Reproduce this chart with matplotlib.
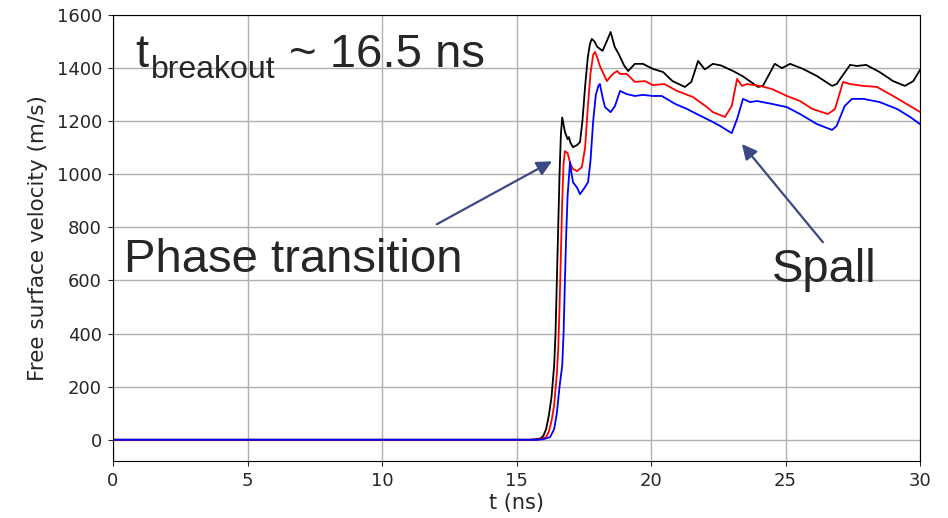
import matplotlib
matplotlib.use("Agg")
import matplotlib.pyplot as plt

# --- data (t in ns, v in m/s) ---
t_black = [0.0, 15.5, 15.7, 15.9, 16.0, 16.1, 16.2, 16.3, 16.4, 16.45, 16.5, 16.55, 16.6, 16.65,
           16.7, 16.8, 16.9, 16.95, 17.0, 17.1, 17.25, 17.36, 17.45, 17.55, 17.65, 17.73, 17.8,
           17.9, 18.0, 18.2, 18.35, 18.5, 18.65, 18.8, 19.0, 19.15, 19.4, 19.7, 20.07, 20.45,
           20.8, 21.26, 21.5, 21.75, 22.0, 22.3, 22.6, 23.05, 23.4, 23.98, 24.16, 24.6, 24.87,
           25.17, 25.65, 26.17, 26.73, 26.9, 27.4, 27.65, 28.0, 28.5, 29.0, 29.44, 29.75, 30.0]
v_black = [0, 0, 2, 5, 15, 40, 90, 160, 280, 400, 600, 800, 1000, 1150,
           1214, 1160, 1132, 1140, 1120, 1102, 1110, 1121, 1200, 1330, 1440, 1491, 1510,
           1500, 1480, 1465, 1500, 1536, 1480, 1453, 1410, 1389, 1416, 1416, 1397, 1385,
           1351, 1329, 1348, 1427, 1395, 1416, 1410, 1389, 1370, 1329, 1333, 1416, 1400,
           1416, 1397, 1370, 1333, 1340, 1412, 1408, 1412, 1385, 1351, 1333, 1351, 1393]

t_red = [0.0, 15.7, 15.9, 16.1, 16.2, 16.3, 16.4, 16.5, 16.55, 16.6, 16.65, 16.7, 16.75, 16.8,
         16.9, 17.0, 17.1, 17.25, 17.43, 17.55, 17.65, 17.75, 17.85, 17.92, 18.0, 18.1, 18.36,
         18.55, 18.74, 18.85, 19.1, 19.4, 19.78, 20.07, 20.5, 20.97, 21.56, 22.08, 22.3, 22.75,
         23.0, 23.2, 23.38, 23.57, 24.05, 24.5, 25.05, 25.54, 26.0, 26.58, 26.84, 27.14, 27.4,
         27.88, 28.4, 29.0, 29.5, 30.0]
v_red = [0, 0, 2, 10, 30, 70, 130, 250, 340, 500, 700, 900, 1040, 1087,
         1080, 1040, 1020, 1012, 1027, 1100, 1250, 1380, 1450, 1461, 1440, 1408, 1351,
         1375, 1389, 1378, 1378, 1348, 1351, 1336, 1340, 1314, 1291, 1253, 1234, 1216,
         1257, 1359, 1333, 1340, 1333, 1321, 1295, 1276, 1246, 1227, 1246, 1348, 1340,
         1333, 1329, 1295, 1265, 1235]

t_blue = [0.0, 15.8, 16.0, 16.25, 16.4, 16.5, 16.6, 16.7, 16.75, 16.8, 16.85, 16.9, 16.99,
          17.05, 17.1, 17.25, 17.36, 17.5, 17.66, 17.75, 17.85, 17.95, 18.05, 18.1, 18.2,
          18.29, 18.5, 18.66, 18.85, 19.1, 19.4, 19.7, 20.07, 20.4, 20.9, 21.34, 21.8, 22.3,
          22.57, 23.0, 23.2, 23.42, 23.68, 23.94, 24.5, 25.05, 25.54, 26.17, 26.73, 26.9,
          27.2, 27.47, 27.9, 28.5, 29.15, 29.63, 30.0]
v_blue = [0, 0, 2, 10, 40, 100, 200, 280, 400, 600, 780, 920, 1046,
          1000, 970, 950, 925, 945, 970, 1050, 1200, 1300, 1335, 1340, 1290,
          1253, 1234, 1257, 1314, 1302, 1295, 1299, 1295, 1295, 1265, 1246, 1222, 1197,
          1182, 1155, 1208, 1284, 1272, 1276, 1265, 1253, 1227, 1189, 1167, 1182,
          1257, 1284, 1284, 1272, 1246, 1216, 1189]

ARROW = "#3b4a82"
TXT = "#262626"
ANN_FONT = ["Liberation Sans", "DejaVu Sans"]

fig = plt.figure(figsize=(9.48, 5.18), dpi=100)
ax = fig.add_axes([113 / 948, 1 - 461 / 518, (920 - 113) / 948, (461 - 15) / 518])

ax.plot(t_black, v_black, color="black", lw=1.3)
ax.plot(t_red, v_red, color="red", lw=1.3)
ax.plot(t_blue, v_blue, color="blue", lw=1.3)

ax.set_xlim(0, 30)
ax.set_ylim(-80, 1600)
ax.set_xticks(range(0, 31, 5))
ax.set_yticks(range(0, 1601, 200))
ax.grid(True, color="#b0b0b0", lw=1.0)
ax.set_axisbelow(True)
ax.tick_params(labelsize=13, colors=TXT, labelcolor=TXT, pad=4.5)
ax.set_xlabel("t (ns)", fontsize=15, color=TXT, labelpad=2)
ax.set_ylabel("Free surface velocity (m/s)", fontsize=15.5, color=TXT, labelpad=6)

# big annotation texts (placed in figure pixels)
def ftext(x, y, s, size):
    fig.text(x / 948, 1 - y / 518, s, fontsize=size, color=TXT, family=ANN_FONT,
             ha="left", va="baseline")

ftext(135, 67, "t", 34)
ftext(151, 78, "breakout", 23)
ftext(289, 67, "~ 16.5 ns", 34)
ftext(124, 272, "Phase transition", 34)
ftext(772, 282, "Spall", 34)

arrow = dict(arrowstyle="-|>,head_length=0.9,head_width=0.45", color=ARROW, lw=1.6,
             shrinkA=0, shrinkB=0)
ax.annotate("", xy=(16.32, 1049), xytext=(12.04, 812), arrowprops=arrow)
ax.annotate("", xy=(23.38, 1114), xytext=(26.39, 744), arrowprops=arrow)

fig.savefig("out.png", dpi=100)
